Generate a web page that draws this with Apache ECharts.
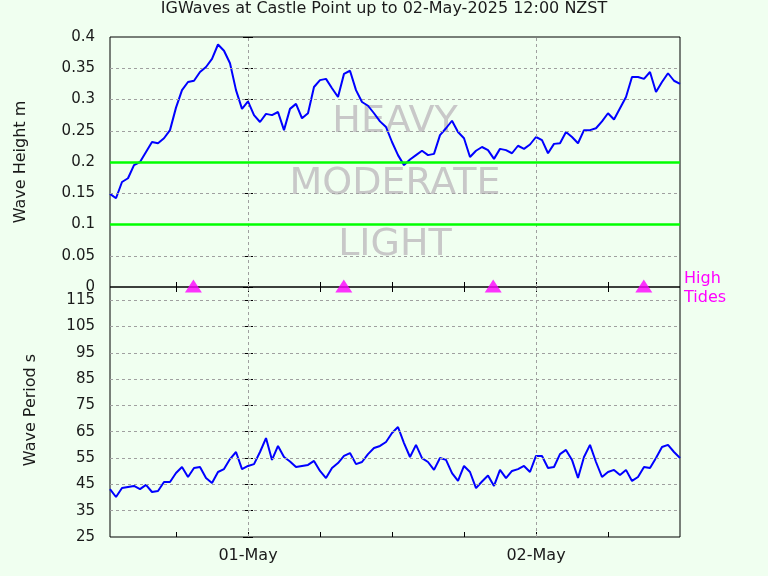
<!DOCTYPE html>
<html><head><meta charset="utf-8">
<script src="https://cdn.jsdelivr.net/npm/echarts@6/dist/echarts.min.js"></script>
<style>html,body{margin:0;padding:0;background:#f0fff0}#c{width:768px;height:576px}</style>
</head><body><div id="c"></div><script>
// ---- data ----
const titleText = 'IGWaves at Castle Point up to 02-May-2025 12:00 NZST';
const startTime = '2025-04-30T12:30';
const stepMinutes = 30;
const axisStart = '2025-04-30T12:30';
const axisEnd = '2025-05-02T12:00';
const dayTicks = ['2025-05-01T00:00', '2025-05-02T00:00'];
const dayLabels = ['01-May', '02-May'];
const hourTicks = ['2025-04-30T18:00','2025-05-01T00:00','2025-05-01T06:00','2025-05-01T12:00','2025-05-01T18:00','2025-05-02T00:00','2025-05-02T06:00'];
const heightValues = [0.149,0.142,0.168,0.174,0.195,0.200,0.216,0.232,0.230,0.238,
 0.251,0.287,0.315,0.328,0.330,0.344,0.352,0.365,0.388,0.378,
 0.358,0.315,0.285,0.297,0.275,0.264,0.277,0.275,0.280,0.251,
 0.285,0.293,0.270,0.278,0.320,0.331,0.333,0.318,0.304,0.341,
 0.346,0.315,0.296,0.290,0.278,0.265,0.256,0.232,0.211,0.195,
 0.204,0.211,0.218,0.211,0.213,0.243,0.254,0.266,0.248,0.238,
 0.208,0.218,0.224,0.219,0.205,0.221,0.219,0.214,0.226,0.221,
 0.228,0.240,0.235,0.214,0.229,0.230,0.248,0.240,0.230,0.251,
 0.251,0.254,0.265,0.278,0.268,0.286,0.304,0.336,0.336,0.333,
 0.344,0.312,0.328,0.342,0.330,0.325];
const periodValues = [43.2,40.2,43.6,44.0,44.4,43.2,44.8,42.1,42.5,45.9,
 45.9,49.3,51.6,47.8,51.2,51.6,47.4,45.5,49.7,50.8,
 54.6,57.3,50.8,52.0,52.7,57.3,62.6,54.3,59.6,55.4,
 53.7,51.6,52.0,52.4,53.9,50.1,47.4,51.2,53.1,55.8,
 56.9,52.7,53.5,56.5,58.8,59.6,61.1,64.5,66.8,60.7,
 55.4,60.0,55.0,53.5,50.5,55.0,54.3,49.3,46.3,52.0,
 49.7,43.6,46.1,48.4,44.4,50.5,47.4,50.1,50.8,52.0,
 49.7,55.8,55.8,51.2,51.6,56.5,58.1,54.3,47.4,55.4,
 60.0,53.5,47.8,49.7,50.5,48.6,50.5,46.3,47.8,51.6,
 51.2,55.0,59.2,60.0,57.3,55.0];
const tideTimes = ['2025-04-30T19:27','2025-05-01T07:59','2025-05-01T20:26','2025-05-02T08:59'];
const heightTicks = [0,0.05,0.1,0.15,0.2,0.25,0.3,0.35,0.4];
const periodTicks = [25,35,45,55,65,75,85,95,105,115];
const bandLimits = [0.1, 0.2];
const bandLabels = ['HEAVY','MODERATE','LIGHT'];
const tideLabel = ['High','Tides'];

// ---- helpers ----
function toHours(s){
  const [d,t] = s.split('T');
  const [Y,M,D] = d.split('-').map(Number);
  const [h,m] = t.split(':').map(Number);
  return (Date.UTC(Y,M-1,D,h,m) - Date.UTC(2025,4,1,0,0)) / 3600000;
}
const t0 = toHours(startTime);
const times = heightValues.map((_, i) => t0 + i * stepMinutes / 60);
const xMin = toHours(axisStart), xMax = toHours(axisEnd);
const tickH = hourTicks.map(toHours);
const dayH = dayTicks.map(toHours);
const FONT = 'DejaVu Sans';
const TXT = '#1a1a1a';
const gridStyle = {color:'#a0a0a0', type:[3,3], width:1};

function xAx(grid, pos, labels){
  return {type:'value', gridIndex:grid, position:pos, min:xMin, max:xMax,
    axisLine:{show:false}, splitLine:{show:false},
    axisTick:{show:true, inside:true, length:5, lineStyle:{color:'#000'}, customValues:tickH},
    axisLabel: labels ? {show:true, customValues:dayH, margin:11, color:TXT, fontSize:16, fontFamily:FONT,
      formatter: v => { const k = dayH.findIndex(d => Math.abs(d - v) < 1e-6); return k >= 0 ? dayLabels[k] : ''; }} : {show:false}};
}
function yAx(grid, pos, min, max, ticks, labels){
  return {type:'value', gridIndex:grid, position:pos, min:min, max:max,
    axisLine:{show:false}, splitLine:{show:false},
    axisTick:{show:true, inside:true, length:5, lineStyle:{color:'#000'}, customValues:ticks},
    axisLabel: labels ? {show:true, customValues:ticks, margin:15, color:TXT, fontSize:15, fontFamily:FONT,
      formatter: v => String(+v.toFixed(3))} : {show:false}};
}

const chart = echarts.init(document.getElementById('c'), null, {renderer:'canvas'});
const option = {
  animation:false,
  backgroundColor:'#f0fff0',
  title:{text:titleText, left:'center', top:1, padding:0,
    textStyle:{fontSize:16, fontWeight:'normal', color:TXT, fontFamily:FONT}},
  grid:[
    {left:110, top:37, width:570, height:250, show:true, borderColor:'#000', borderWidth:1, backgroundColor:'transparent'},
    {left:110, top:287, width:570, height:250, show:true, borderColor:'#000', borderWidth:1, backgroundColor:'transparent'}
  ],
  xAxis:[ xAx(0,'bottom',false), xAx(0,'top',false), xAx(1,'bottom',true), xAx(1,'top',false) ],
  yAxis:[ yAx(0,'left',0,0.4,heightTicks,true), yAx(0,'right',0,0.4,heightTicks,false),
          yAx(1,'left',25,120,periodTicks,true), yAx(1,'right',25,120,periodTicks,false) ],
  graphic:{elements:[
    ...bandLabels.map((t,i) => ({type:'text', x:395, y:[122,184,245][i], z:-1,
      style:{text:t, fill:'#c8c8c8', font:'38px "DejaVu Sans"', align:'center', verticalAlign:'middle', textAlign:'center', textVerticalAlign:'middle'}})),
    {type:'text', x:21, y:162, rotation:Math.PI/2,
      style:{text:'Wave Height m', fill:TXT, font:'16px "DejaVu Sans"', align:'center', verticalAlign:'middle', textAlign:'center', textVerticalAlign:'middle'}},
    {type:'text', x:31, y:410, rotation:Math.PI/2,
      style:{text:'Wave Period s', fill:TXT, font:'16px "DejaVu Sans"', align:'center', verticalAlign:'middle', textAlign:'center', textVerticalAlign:'middle'}},
    ...tideLabel.map((t,i) => ({type:'text', x:684, y:[279,298][i],
      style:{text:t, fill:'#ff00ff', font:'16px "DejaVu Sans"', align:'left', verticalAlign:'middle', textAlign:'left', textVerticalAlign:'middle'}}))
  ]},
  series:[
    {type:'line', xAxisIndex:0, yAxisIndex:0, data:[], z:1, silent:true,
      markLine:{silent:true, symbol:'none', label:{show:false}, lineStyle:gridStyle,
        data:[...heightTicks.filter(v => v > 0 && v < 0.4).map(v => ({yAxis:v})), ...dayH.map(v => ({xAxis:v}))]}},
    {type:'line', xAxisIndex:2, yAxisIndex:2, data:[], z:1, silent:true,
      markLine:{silent:true, symbol:'none', label:{show:false}, lineStyle:gridStyle,
        data:[...periodTicks.filter(v => v > 25).map(v => ({yAxis:v})), ...dayH.map(v => ({xAxis:v}))]}},
    {type:'line', xAxisIndex:0, yAxisIndex:0, z:2, silent:true, data:[], 
      markLine:{silent:true, symbol:'none', label:{show:false}, lineStyle:{color:'#00ff00', type:'solid', width:2.5},
        data:bandLimits.map(v => ({yAxis:v}))}},
    {type:'line', name:'Wave Height', xAxisIndex:0, yAxisIndex:0, z:3, showSymbol:false,
      lineStyle:{color:'#0000ff', width:2}, itemStyle:{color:'#0000ff'},
      data: times.map((t,i) => [t, heightValues[i]])},
    {type:'line', name:'Wave Period', xAxisIndex:2, yAxisIndex:2, z:3, showSymbol:false,
      lineStyle:{color:'#0000ff', width:2}, itemStyle:{color:'#0000ff'},
      data: times.map((t,i) => [t, periodValues[i]])},
    {type:'scatter', name:'High Tides', xAxisIndex:0, yAxisIndex:0, z:5, clip:false,
      symbol:'triangle', symbolSize:[17,13], symbolOffset:[0,-1], itemStyle:{color:'#ff00ff'},
      data: tideTimes.map(s => [toHours(s), 0])}
  ]
};
chart.setOption(option);
</script></body></html>
